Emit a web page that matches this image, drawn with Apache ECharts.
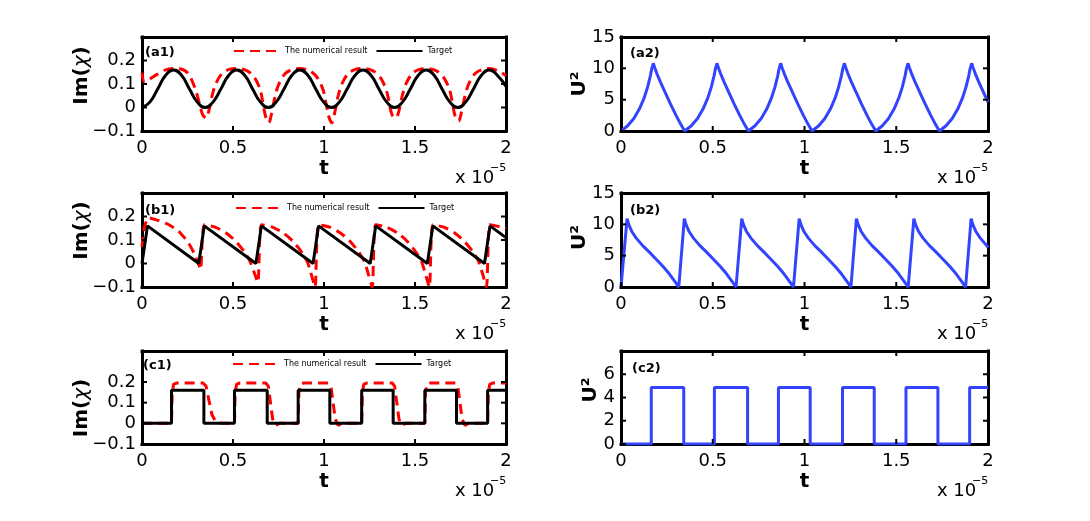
<!DOCTYPE html>
<html>
<head>
<meta charset="utf-8">
<title>Im(chi) / U^2</title>
<script src="https://cdn.jsdelivr.net/npm/echarts@6.0.0/dist/echarts.min.js"></script>
<style>
    body { margin: 0; background: #fff; }
    #main { width: 1090px; height: 521px; }
</style>
</head>
<body>
<div id="main"></div>
<script type="text/javascript">
    // t is in units of 1e-5 (the "x 10^-5" under every axis)
    var tTicks = [0, 0.5, 1, 1.5, 2];
    var imTicks = [-0.1, 0, 0.1, 0.2];
    var u2Ticks = [0, 5, 10, 15];
    var u2TicksC = [0, 2, 4, 6];

    // (a1) numerical result / target
    var a1Numerical = [[0,0.148],[0.015,0.108],[0.06,0.13],[0.13,0.16],[0.19,0.167],[0.25,0.148],[0.29,0.085],[0.313,0.025],[0.333,-0.03],[0.352,-0.045],
        [0.367,-0.015],[0.385,0.05],[0.405,0.1],[0.44,0.145],[0.48,0.162],[0.522,0.166],[0.58,0.155],[0.62,0.125],[0.65,0.075],[0.662,0.03],[0.678,-0.035],[0.697,-0.065],
        [0.712,-0.025],[0.732,0.05],[0.752,0.1],[0.787,0.145],[0.827,0.162],[0.868,0.166],[0.925,0.155],[0.965,0.125],[0.995,0.075],[1.008,0.03],[1.025,-0.035],[1.043,-0.065],
        [1.058,-0.025],[1.078,0.05],[1.098,0.1],[1.133,0.145],[1.173,0.162],[1.215,0.166],[1.272,0.155],[1.312,0.125],[1.342,0.075],[1.356,0.03],[1.373,-0.03],[1.395,-0.045],
        [1.41,-0.02],[1.43,0.05],[1.45,0.1],[1.485,0.145],[1.525,0.162],[1.565,0.166],[1.62,0.155],[1.66,0.125],[1.69,0.075],[1.703,0.03],[1.72,-0.035],[1.74,-0.058],
        [1.755,-0.02],[1.775,0.05],[1.795,0.1],[1.83,0.145],[1.87,0.162],[1.91,0.166],[1.96,0.155],[2,0.135]];
    var a1Target = [[0,0],[0.043,0.023],[0.087,0.08],[0.13,0.137],[0.174,0.16],[0.217,0.137],[0.26,0.08],[0.304,0.023],
        [0.347,0],[0.39,0.023],[0.434,0.08],[0.477,0.137],[0.521,0.16],[0.564,0.137],[0.607,0.08],[0.651,0.023],
        [0.694,0],[0.737,0.023],[0.781,0.08],[0.824,0.137],[0.868,0.16],[0.911,0.137],[0.954,0.08],[0.998,0.023],
        [1.041,0],[1.084,0.023],[1.128,0.08],[1.171,0.137],[1.215,0.16],[1.258,0.137],[1.301,0.08],[1.345,0.023],
        [1.388,0],[1.431,0.023],[1.475,0.08],[1.518,0.137],[1.562,0.16],[1.605,0.137],[1.648,0.08],[1.692,0.023],
        [1.735,0],[1.778,0.023],[1.822,0.08],[1.865,0.137],[1.909,0.16],[1.952,0.137],[2,0.09]];

    // (b1)
    var b1Numerical = [[0,0.07],[0.012,0.15],[0.035,0.195],[0.07,0.188],[0.14,0.168],[0.2,0.138],[0.255,0.088],[0.29,0.038],[0.312,-0.005],[0.322,-0.025],
        [0.342,0.165],[0.402,0.155],[0.462,0.13],[0.512,0.097],[0.562,0.05],[0.594,0.008],[0.615,-0.035],[0.637,-0.08],
        [0.656,0.165],[0.716,0.155],[0.776,0.13],[0.826,0.097],[0.876,0.05],[0.908,0.008],[0.926,-0.035],[0.951,-0.1],
        [0.97,0.165],[1.03,0.155],[1.09,0.13],[1.14,0.097],[1.19,0.05],[1.222,0.008],[1.24,-0.035],[1.265,-0.1],
        [1.284,0.165],[1.344,0.155],[1.404,0.13],[1.454,0.097],[1.504,0.05],[1.536,0.008],[1.554,-0.035],[1.579,-0.1],
        [1.598,0.165],[1.658,0.155],[1.718,0.13],[1.768,0.097],[1.818,0.05],[1.85,0.008],[1.868,-0.035],[1.893,-0.1],
        [1.912,0.165],[1.972,0.155],[2,0.147]];
    var b1Target = [[0,0],[0.03,0.16],[0.312,0],[0.342,0.16],[0.626,0],[0.656,0.16],[0.94,0],[0.97,0.16],
        [1.254,0],[1.284,0.16],[1.568,0],[1.598,0.16],[1.882,0],[1.912,0.16],[2,0.11]];

    // (c1)
    var c1Numerical = [[0,0],[0.162,0],[0.166,0.15],[0.174,0.19],[0.192,0.195],[0.335,0.195],[0.352,0.18],[0.368,0.11],[0.385,0.04],[0.405,0.008],[0.44,0],[0.508,0],
        [0.512,0.15],[0.52,0.19],[0.538,0.195],[0.68,0.195],[0.694,0.18],[0.706,0.1],[0.718,0.02],[0.735,-0.01],[0.755,0],[0.858,0],
        [0.862,0.15],[0.87,0.19],[0.888,0.195],[1.025,0.195],[1.038,0.18],[1.05,0.1],[1.062,0.02],[1.078,-0.01],[1.098,0],[1.207,0],
        [1.211,0.15],[1.219,0.19],[1.237,0.195],[1.375,0.195],[1.388,0.18],[1.4,0.1],[1.412,0.02],[1.428,-0.01],[1.448,0],[1.554,0],
        [1.558,0.15],[1.566,0.19],[1.584,0.195],[1.722,0.195],[1.735,0.18],[1.747,0.1],[1.759,0.02],[1.775,-0.01],[1.795,0],[1.899,0],
        [1.903,0.15],[1.911,0.19],[1.929,0.195],[2,0.195]];
    var c1Target = [[0,0],[0.162,0],[0.162,0.16],[0.34,0.16],[0.34,0],[0.508,0],[0.508,0.16],[0.688,0.16],[0.688,0],
        [0.858,0],[0.858,0.16],[1.032,0.16],[1.032,0],[1.207,0],[1.207,0.16],[1.38,0.16],[1.38,0],
        [1.554,0],[1.554,0.16],[1.728,0.16],[1.728,0],[1.899,0],[1.899,0.16],[2,0.16]];

    // (a2) (b2) (c2) U^2
    var a2U2 = [[0,0],[0.035,0.8],[0.07,2.0],[0.1,3.5],[0.125,5.2],[0.145,7.0],[0.16,8.8],[0.168,10.0],[0.176,10.8],[0.184,10.1],[0.195,9.2],[0.215,7.8],[0.24,6.2],[0.27,4.3],[0.3,2.5],[0.325,1.1],
        [0.347,0],[0.382,0.8],[0.417,2.0],[0.447,3.5],[0.472,5.2],[0.492,7.0],[0.507,8.8],[0.515,10.0],[0.523,10.8],[0.531,10.1],[0.542,9.2],[0.562,7.8],[0.587,6.2],[0.617,4.3],[0.647,2.5],[0.672,1.1],
        [0.694,0],[0.729,0.8],[0.764,2.0],[0.794,3.5],[0.819,5.2],[0.839,7.0],[0.854,8.8],[0.862,10.0],[0.87,10.8],[0.878,10.1],[0.889,9.2],[0.909,7.8],[0.934,6.2],[0.964,4.3],[0.994,2.5],[1.019,1.1],
        [1.041,0],[1.076,0.8],[1.111,2.0],[1.141,3.5],[1.166,5.2],[1.186,7.0],[1.201,8.8],[1.209,10.0],[1.217,10.8],[1.225,10.1],[1.236,9.2],[1.256,7.8],[1.281,6.2],[1.311,4.3],[1.341,2.5],[1.366,1.1],
        [1.388,0],[1.423,0.8],[1.458,2.0],[1.488,3.5],[1.513,5.2],[1.533,7.0],[1.548,8.8],[1.556,10.0],[1.564,10.8],[1.572,10.1],[1.583,9.2],[1.603,7.8],[1.628,6.2],[1.658,4.3],[1.688,2.5],[1.713,1.1],
        [1.735,0],[1.77,0.8],[1.805,2.0],[1.835,3.5],[1.86,5.2],[1.88,7.0],[1.895,8.8],[1.903,10.0],[1.911,10.8],[1.919,10.1],[1.93,9.2],[1.95,7.8],[1.975,6.2],[2,4.6]];
    var b2U2 = [[0,0],[0.033,10.9],[0.043,9.9],[0.058,8.9],[0.083,7.8],[0.118,6.6],[0.153,5.6],[0.193,4.4],[0.228,3.3],[0.263,2.1],[0.288,1.1],[0.305,0.4],[0.315,0],
        [0.345,10.9],[0.355,9.9],[0.37,8.9],[0.395,7.8],[0.43,6.6],[0.465,5.6],[0.505,4.4],[0.54,3.3],[0.575,2.1],[0.6,1.1],[0.617,0.4],[0.627,0],
        [0.658,10.9],[0.668,9.9],[0.683,8.9],[0.708,7.8],[0.743,6.6],[0.778,5.6],[0.818,4.4],[0.853,3.3],[0.888,2.1],[0.913,1.1],[0.93,0.4],[0.94,0],
        [0.971,10.9],[0.981,9.9],[0.996,8.9],[1.021,7.8],[1.056,6.6],[1.091,5.6],[1.131,4.4],[1.166,3.3],[1.201,2.1],[1.226,1.1],[1.243,0.4],[1.253,0],
        [1.283,10.9],[1.293,9.9],[1.308,8.9],[1.333,7.8],[1.368,6.6],[1.403,5.6],[1.443,4.4],[1.478,3.3],[1.513,2.1],[1.538,1.1],[1.555,0.4],[1.565,0],
        [1.596,10.9],[1.606,9.9],[1.621,8.9],[1.646,7.8],[1.681,6.6],[1.716,5.6],[1.756,4.4],[1.791,3.3],[1.826,2.1],[1.851,1.1],[1.868,0.4],[1.878,0],
        [1.908,10.9],[1.918,9.9],[1.933,8.9],[1.958,7.8],[1.993,6.6],[2,6.3]];
    var c2U2 = [[0,0],[0.165,0],[0.165,4.85],[0.342,4.85],[0.342,0],[0.509,0],[0.509,4.85],[0.69,4.85],[0.69,0],
        [0.858,0],[0.858,4.85],[1.031,4.85],[1.031,0],[1.207,0],[1.207,4.85],[1.38,4.85],[1.38,0],
        [1.553,0],[1.553,4.85],[1.727,4.85],[1.727,0],[1.9,0],[1.9,4.85],[2,4.85]];

    var FONT = 'DejaVu Sans';
    var RED = '#ff0000', BLACK = '#000000', BLUE = '#3344ff';
    var NUM_NAME = 'The numerical result', TARGET_NAME = 'Target';
    var TICK_LEN = 5;

    // one entry per subplot: box = [left, top, width, height]
    var panels = [
        {tag: '(a1)', box: [142, 37, 364, 94], tagPos: [145, 46], yMin: -0.1, yMax: 0.3, yStep: 0.1, yTicks: imTicks,
         yName: 'Im({c|χ})', nameGap: 50, namePad: [0, 0, 0, 17], legendPos: [233, 47],
         lines: [{name: NUM_NAME, data: a1Numerical, color: RED, dash: [10, 6], smooth: 0.3},
                 {name: TARGET_NAME, data: a1Target, color: BLACK, dash: 'solid', smooth: 0.5}]},
        {tag: '(b1)', box: [142, 193, 364, 94], tagPos: [145, 204], yMin: -0.1, yMax: 0.3, yStep: 0.1, yTicks: imTicks,
         yName: 'Im({c|χ})', nameGap: 50, namePad: [0, 0, 0, 19], legendPos: [235, 204],
         lines: [{name: NUM_NAME, data: b1Numerical, color: RED, dash: [10, 6], smooth: 0.2},
                 {name: TARGET_NAME, data: b1Target, color: BLACK, dash: 'solid', smooth: false}]},
        {tag: '(c1)', box: [142, 351, 364, 93], tagPos: [143, 359], yMin: -0.1, yMax: 0.35, yStep: 0.1, yTicks: imTicks,
         yName: 'Im({c|χ})', nameGap: 50, namePad: [0, 21, 0, 0], legendPos: [232, 360],
         lines: [{name: NUM_NAME, data: c1Numerical, color: RED, dash: [10, 6], smooth: false},
                 {name: TARGET_NAME, data: c1Target, color: BLACK, dash: 'solid', smooth: false}]},
        {tag: '(a2)', box: [621, 37, 367, 94], tagPos: [630, 47], yMin: 0, yMax: 15, yStep: 5, yTicks: u2Ticks,
         yName: 'U²', nameGap: 31, namePad: [0, 0, 0, 0],
         lines: [{name: 'U2a', data: a2U2, color: BLUE, dash: 'solid', smooth: false}]},
        {tag: '(b2)', box: [621, 193, 367, 94], tagPos: [630, 204], yMin: 0, yMax: 15, yStep: 5, yTicks: u2Ticks,
         yName: 'U²', nameGap: 31, namePad: [0, 0, 0, 5],
         lines: [{name: 'U2b', data: b2U2, color: BLUE, dash: 'solid', smooth: false}]},
        {tag: '(c2)', box: [621, 351, 367, 93], tagPos: [632, 362], yMin: 0, yMax: 8, yStep: 2, yTicks: u2TicksC,
         yName: 'U²', nameGap: 20, namePad: [0, 0, 0, 15],
         lines: [{name: 'U2c', data: c2U2, color: BLUE, dash: 'solid', smooth: false}]}
    ];

    // labels only where the reference has them, with a real minus sign
    function labelFormatter(ticks) {
        return function (v) {
            for (var k = 0; k < ticks.length; k++) {
                if (Math.abs(ticks[k] - v) < 1e-9) {
                    return String(ticks[k]).replace('-', '\u2212');
                }
            }
            return '';
        };
    }

    // the axis lines draw the thick box
    var boxLine = {show: true, onZero: false, lineStyle: {color: '#000', width: 3, cap: 'square'}};

    function textGraphics() {
        var g = [];
        panels.forEach(function (p) {
            var left = p.box[0], top = p.box[1], w = p.box[2], h = p.box[3];
            // panel tag and the "x 10^-5" multiplier
            g.push({type: 'text', x: p.tagPos[0], y: p.tagPos[1],
                    style: {text: p.tag, fontFamily: FONT, fontSize: 13, fontWeight: 'bold',
                            fill: '#000', verticalAlign: 'top'}});
            g.push({type: 'text', x: left + w - 51, y: top + h + 38,
                    style: {text: 'x 10', fontFamily: FONT, fontSize: 18, fill: '#000', verticalAlign: 'top'}});
            g.push({type: 'text', x: left + w - 16, y: top + h + 32,
                    style: {text: '\u22125', fontFamily: FONT, fontSize: 11, fill: '#000', verticalAlign: 'top'}});
        });
        return g;
    }

    function buildOption() {
        var grid = [], xAxis = [], yAxis = [], series = [], legend = [];

        panels.forEach(function (p, i) {
            var b = p.box;
            grid.push({left: b[0], top: b[1], width: b[2], height: b[3], show: false,
                       outerBoundsMode: 'none'});

            // bottom axis with labels, top axis only closes the box
            xAxis.push({type: 'value', gridIndex: i, position: 'bottom', min: 0, max: 2, interval: 0.5,
                        name: 't', nameLocation: 'middle', nameGap: 28, nameMoveOverlap: false,
                        nameTextStyle: {fontFamily: FONT, fontSize: 20, fontWeight: 'bold', color: '#000'},
                        axisLine: boxLine, splitLine: {show: false}, axisTick: {show: false},
                        axisLabel: {margin: 8, fontFamily: FONT, fontSize: 18, color: '#000',
                                    formatter: labelFormatter(tTicks)}});
            xAxis.push({type: 'value', gridIndex: i, position: 'top', min: 0, max: 2, interval: 0.5,
                        axisLine: boxLine, splitLine: {show: false}, axisTick: {show: false},
                        axisLabel: {show: false}});

            yAxis.push({type: 'value', gridIndex: i, position: 'left', min: p.yMin, max: p.yMax, interval: p.yStep,
                        name: p.yName, nameLocation: 'middle', nameGap: p.nameGap, nameMoveOverlap: false,
                        nameTextStyle: {fontFamily: FONT, fontSize: 20, fontWeight: 'bold', color: '#000',
                                        padding: p.namePad,
                                        rich: {c: {fontFamily: FONT, fontSize: 20, fontStyle: 'italic',
                                                   fontWeight: 'normal', color: '#000'}}},
                        axisLine: boxLine, splitLine: {show: false}, axisTick: {show: false},
                        axisLabel: {margin: 6, fontFamily: FONT, fontSize: 18, color: '#000',
                                    formatter: labelFormatter(p.yTicks)}});
            yAxis.push({type: 'value', gridIndex: i, position: 'right', min: p.yMin, max: p.yMax, interval: p.yStep,
                        axisLine: boxLine, splitLine: {show: false}, axisTick: {show: false},
                        axisLabel: {show: false}});

            p.lines.forEach(function (l) {
                series.push({type: 'line', name: l.name, xAxisIndex: 2 * i, yAxisIndex: 2 * i,
                             data: l.data, symbol: 'none', smooth: l.smooth,
                             lineStyle: {color: l.color, width: 3, type: l.dash},
                             itemStyle: {color: l.color}});
            });

            if (p.legendPos) {
                // line samples only, no marker in the middle
                legend.push({left: p.legendPos[0], top: p.legendPos[1], padding: 0, orient: 'horizontal',
                             data: [NUM_NAME, TARGET_NAME], selectedMode: false,
                             itemWidth: 46, itemHeight: 10, itemGap: 8,
                             itemStyle: {color: 'rgba(0,0,0,0)', borderWidth: 0, opacity: 0},
                             textStyle: {fontFamily: FONT, fontSize: 8, color: '#000'}});
            }
        });

        return {
            backgroundColor: '#fff',
            animation: false,
            grid: grid,
            xAxis: xAxis,
            yAxis: yAxis,
            legend: legend,
            series: series,
            graphic: textGraphics()
        };
    }

    // inward ticks on all four sides, placed through the axes' own scales
    function tickGraphics() {
        var g = [];
        var tickStyle = {stroke: '#000', lineWidth: 2};
        panels.forEach(function (p, i) {
            var finder = {xAxisIndex: 2 * i, yAxisIndex: 2 * i};
            var lo = myChart.convertToPixel(finder, [0, p.yMin]);
            var hi = myChart.convertToPixel(finder, [2, p.yMax]);
            tTicks.forEach(function (t) {
                var x = myChart.convertToPixel(finder, [t, p.yMin])[0];
                g.push({type: 'line', silent: true, z: 50, shape: {x1: x, y1: lo[1], x2: x, y2: lo[1] - TICK_LEN}, style: tickStyle});
                g.push({type: 'line', silent: true, z: 50, shape: {x1: x, y1: hi[1], x2: x, y2: hi[1] + TICK_LEN}, style: tickStyle});
            });
            p.yTicks.forEach(function (v) {
                var y = myChart.convertToPixel(finder, [0, v])[1];
                g.push({type: 'line', silent: true, z: 50, shape: {x1: lo[0], y1: y, x2: lo[0] + TICK_LEN, y2: y}, style: tickStyle});
                g.push({type: 'line', silent: true, z: 50, shape: {x1: hi[0], y1: y, x2: hi[0] - TICK_LEN, y2: y}, style: tickStyle});
            });
        });
        return g;
    }

    var myChart = echarts.init(document.getElementById('main'));
    myChart.setOption(buildOption());
    myChart.setOption({graphic: textGraphics().concat(tickGraphics())});
</script>
</body>
</html>
